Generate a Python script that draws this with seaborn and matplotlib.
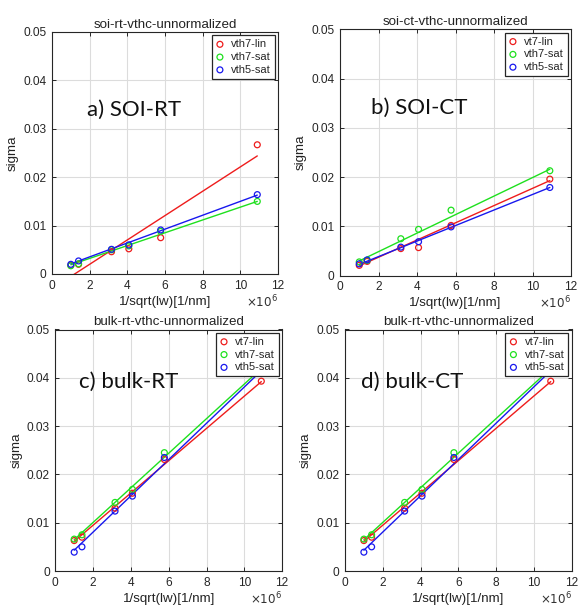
import numpy as np
import matplotlib
matplotlib.use("Agg")
import matplotlib.pyplot as plt
import seaborn as sns

# x positions, 1/sqrt(lw) in units of 1e6 [1/nm]
x_vals = [1.0, 1.41, 3.16, 4.08, 5.77, 10.9]

# a) soi-rt
soi_rt_lin = [0.0018, 0.0020, 0.0046, 0.0052, 0.0075, 0.0267]
soi_rt_sat7 = [0.0017, 0.0021, 0.0050, 0.0058, 0.0088, 0.0150]
soi_rt_sat5 = [0.0020, 0.0027, 0.0051, 0.0060, 0.0091, 0.0164]
# fitted lines (slope, intercept)
soi_rt_fit = [(0.002515, -0.00302), (0.001323, 0.00058), (0.001434, 0.00067)]

# b) soi-ct
soi_ct_lin = [0.0021, 0.0029, 0.0055, 0.0057, 0.0102, 0.0196]
soi_ct_sat7 = [0.0028, 0.0031, 0.0075, 0.0094, 0.0133, 0.0213]
soi_ct_sat5 = [0.0024, 0.0032, 0.0058, 0.0069, 0.0099, 0.0179]
soi_ct_fit = [(0.001747, 0.00025), (0.001879, 0.00112), (0.001576, 0.00072)]

# c) / d) bulk
bulk_lin = [0.0063, 0.0070, 0.0130, 0.0161, 0.0231, 0.0393]
bulk_sat7 = [0.0066, 0.0075, 0.0142, 0.0169, 0.0245, 0.0425]
bulk_sat5 = [0.0039, 0.0050, 0.0124, 0.0155, 0.0235, 0.0418]
bulk_fit = [(0.00334, 0.0028), (0.00358, 0.0029), (0.003754, 0.00055)]

colors = ["#ee1c1c", "#1ee01e", "#1818ee"]

sns.set_style("whitegrid")
plt.rcParams["font.family"] = ["Liberation Sans", "DejaVu Sans"]

fig = plt.figure(figsize=(5.79, 6.08), dpi=100)

panels = [
    # rect, title, series, labels, fit, annotation, annot pos
    ([52 / 579, 1 - 274 / 608, 226 / 579, 242 / 608], "soi-rt-vthc-unnormalized",
     [soi_rt_lin, soi_rt_sat7, soi_rt_sat5], ["vth7-lin", "vth7-sat", "vth5-sat"],
     soi_rt_fit, "a) SOI-RT", (1.85, 0.0339)),
    ([340 / 579, 1 - 275.7 / 608, 231 / 579, 246.4 / 608], "soi-ct-vthc-unnormalized",
     [soi_ct_lin, soi_ct_sat7, soi_ct_sat5], ["vt7-lin", "vth7-sat", "vth5-sat"],
     soi_ct_fit, "b) SOI-CT", (1.6, 0.034)),
    ([55.3 / 579, 1 - 571 / 608, 226.8 / 579, 241.5 / 608], "bulk-rt-vthc-unnormalized",
     [bulk_lin, bulk_sat7, bulk_sat5], ["vt7-lin", "vth7-sat", "vth5-sat"],
     bulk_fit, "c) bulk-RT", (1.25, 0.0392)),
    ([345 / 579, 1 - 571 / 608, 226.5 / 579, 241.5 / 608], "bulk-rt-vthc-unnormalized",
     [bulk_lin, bulk_sat7, bulk_sat5], ["vt7-lin", "vth7-sat", "vth5-sat"],
     bulk_fit, "d) bulk-CT", (0.85, 0.0392)),
]

x_arr = np.array(x_vals)
for rect, title, series, labels, fits, annot, apos in panels:
    ax = fig.add_axes(rect)
    for ys, lab, (m, b), col in zip(series, labels, fits, colors):
        sns.scatterplot(x=x_vals, y=ys, ax=ax, marker="o", s=18,
                        facecolors="none", edgecolor=col, linewidth=0.9,
                        label=lab, zorder=3)
        sns.lineplot(x=x_arr, y=m * x_arr + b, ax=ax, color=col,
                     linewidth=1.0, label="_nolegend_", zorder=2)
    ax.set_xlim(0, 12)
    ax.set_ylim(0, 0.05)
    ax.set_xticks(range(0, 13, 2))
    ax.set_yticks([0, 0.01, 0.02, 0.03, 0.04, 0.05])
    ax.set_yticklabels(["0", "0.01", "0.02", "0.03", "0.04", "0.05"])
    ax.grid(True, color="#dcdcdc", linewidth=0.8)
    for sp in ax.spines.values():
        sp.set_color("#262626")
        sp.set_linewidth(0.8)
    ax.tick_params(direction="in", length=3, width=0.7, colors="#262626",
                   labelsize=8.6, top=True, right=True, bottom=True, left=True,
                   pad=4)
    ax.set_title(title, fontsize=9.6, pad=3, color="#222222")
    ax.set_xlabel("1/sqrt(lw)[1/nm]", fontsize=9.6, labelpad=3, color="#222222")
    ax.set_ylabel("sigma", fontsize=9.6, labelpad=3, color="#222222")
    ax.annotate(r"$\times10^{6}$", xy=(1, 0), xycoords="axes fraction",
                xytext=(0, -20), textcoords="offset points", ha="right",
                va="center", fontsize=8.6, color="#333333")
    ax.text(apos[0], apos[1], annot, fontsize=16, family=["Lato", "DejaVu Sans"],
            va="center", ha="left", color="#111111")
    leg = ax.legend(loc="upper right", fontsize=8, frameon=True, fancybox=False,
                    framealpha=1, edgecolor="#262626", handlelength=0.8,
                    handletextpad=0.6, labelspacing=0.25, borderpad=0.35,
                    borderaxespad=0.3)
    leg.get_frame().set_linewidth(0.9)

fig.savefig("out.png", dpi=100)
